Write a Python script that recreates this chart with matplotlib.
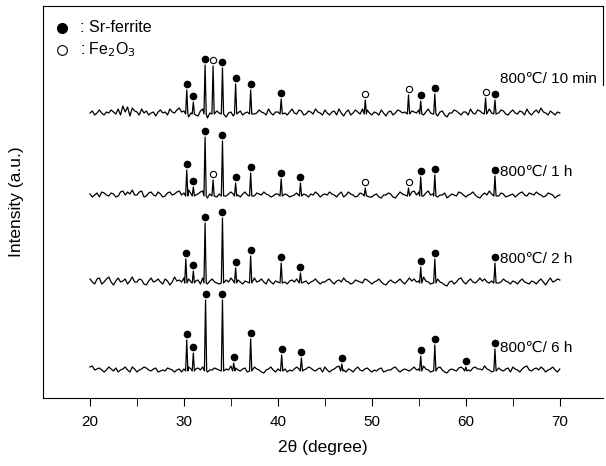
import numpy as np
import matplotlib
matplotlib.use('Agg')
import matplotlib.pyplot as plt

plt.rcParams['font.family'] = ['Liberation Sans', 'DejaVu Sans']

# background wiggle of each pattern,
# one value every 0.25 degree from 20 to 70
noise_10min = [0, 2, -2, 0, 3, 0, -2, 1, 0, 3, 1, -1, 4, -2, 7, 1, 6, -3, 5, 2,
               1, -2, 4, 0, 2, -2, 0, 1, -3, 1, 3, 0, 1, -2, 4, 1, 0, 3, 5, 1,
               2, -1, -4, 0, 1, -2, -3, 2, 4, -1, -5, 0, 3, 1, 2, 0, -2, 1, -4, 0,
               1, -3, -5, 0, 2, -2, 0, 1, 2, -3, -1, 0, 3, 1, 0, -2, 4, 0, -2, 1,
               1, 3, 5, 0, -2, 1, 4, 0, -1, 3, 2, -2, -1, 2, 1, -1, 4, 1, 0, -2,
               3, 0, -2, 1, 2, -2, 4, 0, -3, 1, 3, -2, 0, 3, 1, -1, 4, 1, 3, 0,
               -2, 1, 0, -2, 3, 0, -3, 1, 2, -2, 0, 3, 2, 0, 1, -2, 4, 2, 1, 0,
               3, 0, -2, 1, 4, 0, -1, -3, -3, 1, 2, -2, -4, 0, 0, 3, 2, 0, -2, 1,
               1, -2, 4, 0, -1, 3, 2, 0, 5, 1, 4, 0, 1, -2, 0, 3, 2, -1, -2, 1,
               3, 0, -1, 2, 1, -2, 4, 0, -2, 1, 3, 0, 5, 1, 0, -2, 2, 0, -2, 1,
               0]
noise_1h = [1, -2, 0, 2, -2, 3, 2, 0, -1, 2, 1, -2, -1, 3, 4, 0, 3, 1, 5, 0,
            0, 3, 4, -2, -1, 2, 3, 0, -1, 3, 1, -2, -1, 2, 3, 0, 1, 3, 4, 0,
            2, 0, 5, 1, -2, 0, 1, 3, 4, 0, -3, 1, 1, 0, -2, 1, 3, 0, -1, 1,
            3, 1, 4, 0, -2, 1, 3, 0, -1, -2, -1, 2, 1, 0, 3, 1, 0, -2, -1, 1,
            1, 0, 3, 1, 0, -2, -1, 0, 2, 3, 4, 1, 0, -2, 1, 0, 3, 1, -2, 0,
            1, 0, 3, 1, 0, -2, 1, 3, -2, 0, 3, 1, 0, -2, -1, 2, 1, 0, -1, -2,
            -2, 0, 1, -2, -3, 0, 0, 2, 1, -2, -3, 0, 3, 1, 0, -2, 1, 3, 4, 0,
            3, 0, -1, 2, 4, 0, 1, -2, -2, 0, 0, 2, -3, -1, 1, 0, -1, 3, 2, 0,
            -2, 0, 1, 3, 0, -2, -3, 0, 2, 0, 4, 1, 3, 0, -1, 2, 1, -2, -1, 0,
            1, -2, 0, 2, 3, 0, -1, 2, 1, 0, 3, 1, 0, -2, -1, 2, 1, 0, -3, -1,
            0]
noise_2h = [3, 0, -2, 3, 4, -2, 0, 3, 5, 0, -3, 1, 4, 0, 1, 3, -2, 1, 5, 0,
            0, 3, 2, -2, -3, 1, 4, 0, 1, 3, 0, -2, 3, 1, -3, 0, 5, 1, 2, 0,
            4, 1, 3, 0, -1, 1, 2, -2, 4, 0, -2, 1, 3, 0, -1, -2, -3, 1, 2, 0,
            4, 1, 5, 2, 0, -2, 1, 0, -2, 1, 4, 0, 1, 3, 0, -2, 3, 0, -2, 1,
            0, 1, 3, 0, -2, 1, 2, 0, 3, 1, -3, 0, 1, -2, 0, 1, 3, 0, -2, 0,
            0, 2, 3, 0, -2, 1, 2, 0, 4, 1, 0, -2, -1, 2, 1, 0, -1, 3, 2, 0,
            -2, 0, 1, 3, 0, -2, -3, 0, 2, 0, -1, 1, 3, 0, -2, 1, 4, 1, 3, 0,
            1, 0, 5, 1, 0, -2, -1, 1, 3, 0, -1, -3, -4, 0, 1, -2, 0, 3, 4, 0,
            -2, 1, 3, 0, -1, 1, 4, 1, 3, 0, -1, 1, 2, -2, -1, 0, 3, 1, 0, -2,
            1, 0, -2, 1, 3, 0, -1, -2, 1, 0, -2, 1, 3, 0, -3, 1, 4, 0, 1, 3,
            2]
noise_6h = [3, 4, 0, 1, 2, 0, -2, 0, 3, 1, -1, 2, -2, 0, 1, 3, 0, -2, 3, 1,
            -2, 0, 1, 3, 2, 0, -1, 1, 2, -2, -1, 0, -1, 2, 1, 0, -2, 0, 1, -2,
            1, 0, 3, 1, -1, 1, 2, 0, 3, 1, -2, 0, 0, 2, 1, 0, -4, -1, 1, 0,
            4, 1, 2, 0, -1, 1, 2, -2, -1, 0, 3, 1, 0, -2, -3, 0, 1, 3, 0, -2,
            1, 0, 3, 1, -2, 0, -1, 1, 3, 1, -2, 0, 1, 3, 2, 0, -1, 1, 2, -2,
            3, 0, -2, 0, 1, 3, 4, 1, 0, -2, 1, 0, -2, 1, 3, 0, -1, 1, 2, 0,
            -2, 0, -1, 1, 2, -2, -1, 0, 0, 2, 3, 0, -2, 0, 1, 0, -1, 1, 3, 0,
            1, 0, 4, 1, 0, -2, -1, 0, 2, 3, 0, -2, -3, 0, 1, 0, -1, 2, 3, 1,
            1, 0, -1, 2, 3, 1, 1, 0, 4, 1, 0, -2, 1, 3, 2, 0, -1, 1, 2, -2,
            3, 1, 0, -2, 1, 3, 4, 0, -1, 1, 2, 0, 3, 1, -2, 0, 1, 3, 0, -2,
            1]

# peak positions, heights above background, phase (S = Sr-ferrite, F = Fe2O3)
peaks_10min_x = [30.3, 31.0, 32.25, 33.1, 34.1, 35.5, 37.1, 40.35, 49.3, 53.9, 55.2, 56.7, 62.1, 63.1]
peaks_10min_h = [23, 11, 48, 47, 45, 29, 23, 14, 13, 18, 12, 19, 15, 13]
peaks_10min_phase = ['S', 'S', 'S', 'F', 'S', 'S', 'S', 'S', 'F', 'F', 'S', 'S', 'F', 'S']

peaks_1h_x = [30.3, 31.0, 32.25, 33.1, 34.1, 35.5, 37.1, 40.35, 42.4, 49.3, 53.9, 55.2, 56.7, 63.1]
peaks_1h_h = [25, 8, 58, 15, 54, 12, 22, 16, 12, 7, 7, 18, 20, 19]
peaks_1h_phase = ['S', 'S', 'S', 'F', 'S', 'S', 'S', 'S', 'S', 'F', 'F', 'S', 'S', 'S']

peaks_2h_x = [30.2, 31.0, 32.25, 34.1, 35.5, 37.1, 40.35, 42.4, 55.2, 56.7, 63.1]
peaks_2h_h = [23, 11, 59, 64, 14, 26, 19, 9, 15, 23, 19]
peaks_2h_phase = ['S'] * 11

peaks_6h_x = [30.3, 31.0, 32.3, 34.1, 35.3, 37.1, 40.4, 42.5, 46.8, 55.2, 56.7, 60.0, 63.1]
peaks_6h_h = [30, 17, 70, 70, 7, 31, 15, 12, 6, 14, 25, 3, 21]
peaks_6h_phase = ['S'] * 13

offsets = [285, 203, 116, 28]
labels = ['800℃/ 10 min', '800℃/ 1 h', '800℃/ 2 h', '800℃/ 6 h']
label_y = [319, 226, 139, 50]

patterns = [
    (noise_10min, peaks_10min_x, peaks_10min_h, peaks_10min_phase),
    (noise_1h, peaks_1h_x, peaks_1h_h, peaks_1h_phase),
    (noise_2h, peaks_2h_x, peaks_2h_h, peaks_2h_phase),
    (noise_6h, peaks_6h_x, peaks_6h_h, peaks_6h_phase),
]

fig = plt.figure(figsize=(6.06, 4.66), dpi=100)
ax = fig.add_axes([43 / 606, 68 / 466, 560 / 606, 392 / 466])

for k, (noise, px, ph, phase) in enumerate(patterns):
    base = offsets[k]
    px = np.array(px)
    two_theta = 20 + 0.25 * np.arange(len(noise))
    # background points away from the peaks
    keep = [i for i, t in enumerate(two_theta) if np.min(np.abs(px - t)) > 0.15]
    xs = list(two_theta[keep])
    ys = [base + noise[i] for i in keep]
    # each peak as a sharp spike
    for x0, h in zip(px, ph):
        xs += [x0 - 0.12, x0, x0 + 0.12]
        ys += [base - 1, base + h, base - 1]
    order = np.argsort(xs)
    ax.plot(np.array(xs)[order], np.array(ys)[order], color='black', lw=0.9)

    # phase markers above the peaks
    for x0, h, p in zip(px, ph, phase):
        if p == 'S':
            ax.plot(x0, base + h + 6, 'o', ms=4.5, color='black')
        else:
            ax.plot(x0, base + h + 6, 'o', ms=4.5, mfc='white', mec='black', mew=0.8)

    ax.text(63.6, label_y[k], labels[k], fontsize=11, va='center', ha='left')

# legend
ax.plot(17.0, 370, 'o', ms=7, color='black')
ax.text(18.9, 371, ': Sr-ferrite', fontsize=11.5, va='center')
ax.plot(17.0, 348, 'o', ms=7, mfc='white', mec='black', mew=0.8)
ax.text(18.9, 348, ': Fe$_2$O$_3$', fontsize=11.5, va='center')

ax.set_xlim(15, 74.6)
ax.set_ylim(0, 392)
ax.set_xticks([20, 30, 40, 50, 60, 70])
ax.set_xticks([25, 35, 45, 55, 65], minor=True)
ax.tick_params(axis='x', which='both', direction='out', length=6, pad=6, labelsize=11)
ax.set_yticks([])
ax.spines['right'].set_bounds(313, 392)
ax.set_xlabel('2θ (degree)', fontsize=12.5, labelpad=8)
ax.set_ylabel('Intensity (a.u.)', fontsize=12.5, labelpad=14)

fig.savefig('out.png', dpi=100)
